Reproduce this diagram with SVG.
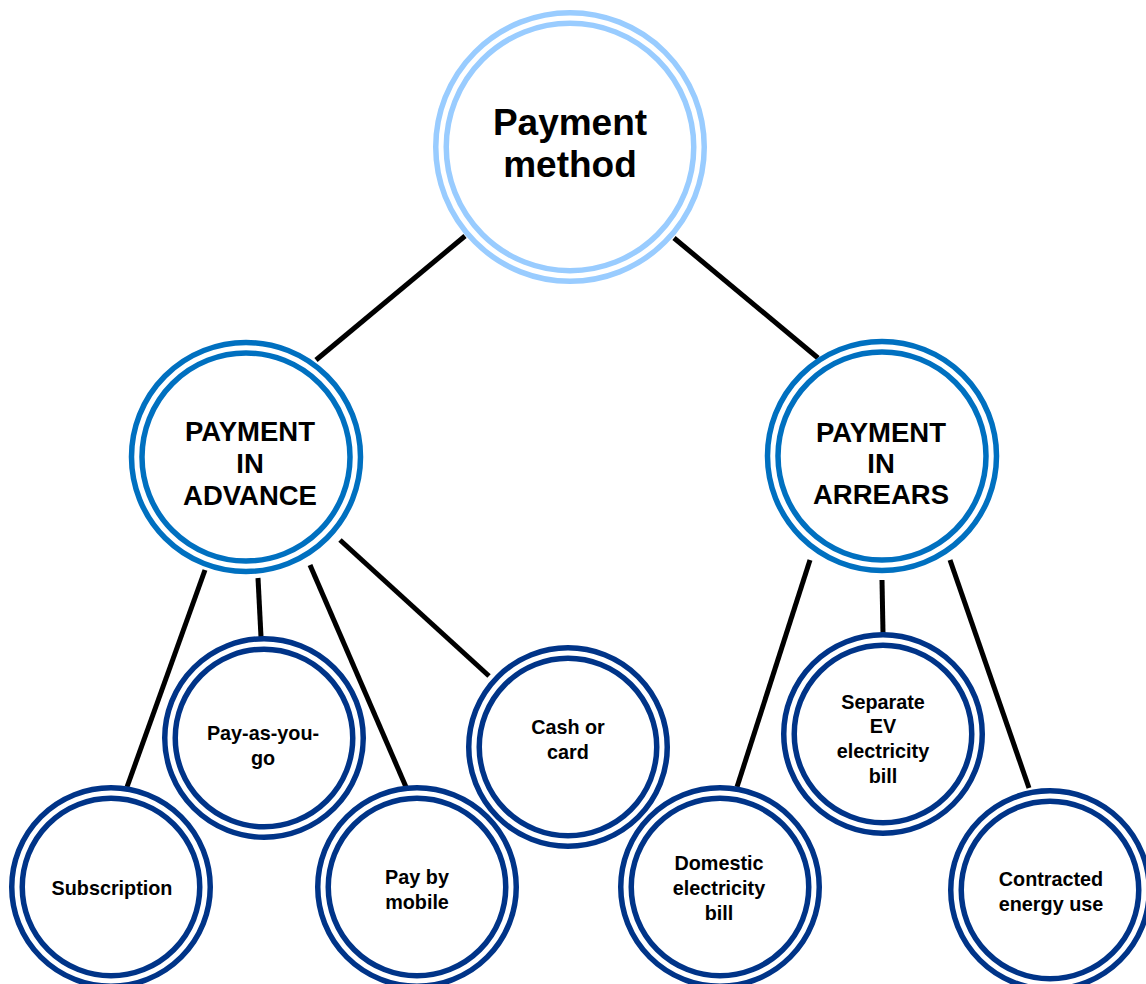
<svg xmlns="http://www.w3.org/2000/svg" width="1146" height="984" viewBox="0 0 1146 984">
<style>
.bg{fill:#ffffff}
.conn line{stroke:#000000;stroke-width:5;stroke-linecap:butt}
.ring{fill:#ffffff;stroke-width:5.5}
.top .ring{stroke:#99CCFF}
.mid .ring{stroke:#0070C0}
.leaf .ring{stroke:#003488}
text{font-family:"Liberation Sans",Arial,sans-serif;font-weight:bold;fill:#000000;text-anchor:middle}
.top text{font-size:37px}
.mid text{font-size:27.5px}
.leaf text{font-size:19.8px}
</style>
<rect class="bg" x="0" y="0" width="1146" height="984"/>
<g id="connectors" class="conn">
<line x1="465" y1="236" x2="316" y2="360"/>
<line x1="674" y1="238" x2="818" y2="358"/>
<line x1="205" y1="570" x2="127" y2="787"/>
<line x1="258" y1="578" x2="261" y2="637"/>
<line x1="310" y1="565" x2="406" y2="787"/>
<line x1="340" y1="540" x2="489" y2="676"/>
<line x1="810" y1="560" x2="737" y2="787"/>
<line x1="882" y1="580" x2="883" y2="633"/>
<line x1="950" y1="560" x2="1029" y2="788"/>
</g>
<g id="payment-method" class="top">
<circle class="ring" cx="570" cy="147" r="134.25"/>
<circle class="ring" cx="570" cy="147" r="123.75"/>
<text x="570" y="135">Payment</text>
<text x="570" y="177">method</text>
</g>
<g id="payment-in-advance" class="mid">
<circle class="ring" cx="246" cy="457" r="114.5"/>
<circle class="ring" cx="246" cy="457" r="104"/>
<text x="250" y="441">PAYMENT</text>
<text x="250" y="473">IN</text>
<text x="250" y="505">ADVANCE</text>
</g>
<g id="payment-in-arrears" class="mid">
<circle class="ring" cx="882" cy="456" r="114.5"/>
<circle class="ring" cx="882" cy="456" r="104"/>
<text x="881" y="442">PAYMENT</text>
<text x="881" y="473">IN</text>
<text x="881" y="504">ARREARS</text>
</g>
<g id="subscription" class="leaf">
<circle class="ring" cx="111" cy="887" r="99.25"/>
<circle class="ring" cx="111" cy="887" r="88.75"/>
<text x="112" y="895">Subscription</text>
</g>
<g id="pay-as-you-go" class="leaf">
<circle class="ring" cx="264" cy="738" r="99.25"/>
<circle class="ring" cx="264" cy="738" r="88.75"/>
<text x="263" y="740">Pay-as-you-</text>
<text x="263" y="765">go</text>
</g>
<g id="pay-by-mobile" class="leaf">
<circle class="ring" cx="417" cy="887" r="99.25"/>
<circle class="ring" cx="417" cy="887" r="88.75"/>
<text x="417" y="884">Pay by</text>
<text x="417" y="909">mobile</text>
</g>
<g id="cash-or-card" class="leaf">
<circle class="ring" cx="568" cy="747" r="99.25"/>
<circle class="ring" cx="568" cy="747" r="88.75"/>
<text x="568" y="734">Cash or</text>
<text x="568" y="759">card</text>
</g>
<g id="domestic-electricity-bill" class="leaf">
<circle class="ring" cx="720" cy="887" r="99.25"/>
<circle class="ring" cx="720" cy="887" r="88.75"/>
<text x="719" y="870">Domestic</text>
<text x="719" y="895">electricity</text>
<text x="719" y="920">bill</text>
</g>
<g id="separate-ev-electricity-bill" class="leaf">
<circle class="ring" cx="883" cy="734" r="99.25"/>
<circle class="ring" cx="883" cy="734" r="88.75"/>
<text x="883" y="709">Separate</text>
<text x="883" y="733">EV</text>
<text x="883" y="758">electricity</text>
<text x="883" y="783">bill</text>
</g>
<g id="contracted-energy-use" class="leaf">
<circle class="ring" cx="1050" cy="890" r="99.25"/>
<circle class="ring" cx="1050" cy="890" r="88.75"/>
<text x="1051" y="886">Contracted</text>
<text x="1051" y="911">energy use</text>
</g>
</svg>
